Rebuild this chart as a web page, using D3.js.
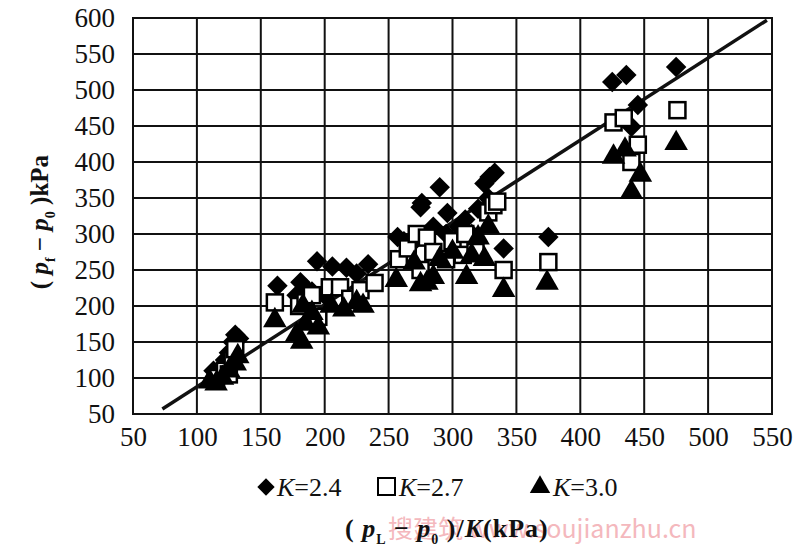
<!DOCTYPE html>
<html><head><meta charset="utf-8">
<script src="https://cdn.jsdelivr.net/npm/d3@7"></script>
<style>body{margin:0;background:#fff}svg{display:block}</style>
</head><body>
<svg id="c" width="800" height="558"></svg>
<script>
const xTicks = [50,100,150,200,250,300,350,400,450,500,550];
const yTicks = [50,100,150,200,250,300,350,400,450,500,550,600];
const seriesNames = ["K=2.4","K=2.7","K=3.0"];
// K=2.4 diamonds
const k24 = [[113,110],[120,115],[122,125],[125,135],[128,150],[130,160],[133,155],
 [163,228],[178,215],[181,233],[185,225],[190,220],[194,262],[200,215],[206,255],[217,253],[225,245],[234,258],
 [257,296],[262,290],[270,290],[276,343],[275,337],[285,310],[290,365],[295,300],[296,329],[305,310],[310,320],[315,300],[320,335],[325,370],[328,350],[329,379],[333,385],[340,280],
 [375,296],[425,511],[436,521],[440,449],[445,479],[475,532]];
// K=2.7 squares
const k27 = [[115,100],[122,110],[125,105],[128,125],[130,140],
 [161,205],[180,200],[185,205],[190,215],[195,185],[204,226],[212,226],[220,210],[228,222],[239,232],
 [258,265],[265,280],[272,300],[275,250],[280,295],[285,275],[295,265],[300,290],[308,271],[310,300],[318,275],[328,330],[332,340],[335,345],[340,250],
 [375,261],[426,455],[434,461],[440,400],[445,424],[476,472]];
// K=3.0 triangles
const k30 = [[110,95],[115,92],[120,100],[125,110],[130,120],[132,130],
 [161,180],[178,160],[182,150],[183,200],[185,175],[190,190],[195,170],[205,200],[215,195],[225,205],[230,200],
 [256,236],[270,260],[275,230],[280,232],[285,240],[290,265],[300,275],[311,240],[315,270],[320,295],[325,265],[328,310],[340,222],
 [374,232],[426,407],[435,417],[440,358],[447,382],[475,426]];
const fitLine = [[73,57],[546,597]];

const svg = d3.select("#c");
const L=133,R=772,T=18,B=414;
const x = d3.scaleLinear().domain([50,550]).range([L,R]);
const y = d3.scaleLinear().domain([50,600]).range([B,T]);
const serif = "'Liberation Serif','Times New Roman',serif";

// grid
svg.append("g").selectAll("line").data(xTicks).join("line")
 .attr("x1",d=>x(d)).attr("x2",d=>x(d)).attr("y1",T).attr("y2",B)
 .attr("stroke","#111").attr("stroke-width",2);
svg.append("g").selectAll("line").data(yTicks).join("line")
 .attr("x1",L).attr("x2",R).attr("y1",d=>y(d)).attr("y2",d=>y(d))
 .attr("stroke","#111").attr("stroke-width",2);
svg.append("rect").attr("x",L).attr("y",T).attr("width",R-L).attr("height",B-T)
 .attr("fill","none").attr("stroke","#111").attr("stroke-width",2);

// axes labels via d3 axes
const xa = svg.append("g").attr("transform",`translate(0,${B})`)
 .call(d3.axisBottom(x).tickValues(xTicks).tickSize(0).tickPadding(13).tickFormat(d3.format("d")));
const ya = svg.append("g").attr("transform",`translate(${L},0)`)
 .call(d3.axisLeft(y).tickValues(yTicks).tickSize(0).tickPadding(18).tickFormat(d3.format("d")));
[xa,ya].forEach(a=>{a.select(".domain").remove();
 a.selectAll("text").attr("font-family",serif).attr("font-size",27).attr("fill","#111");});

// fit line
svg.append("line").attr("x1",x(fitLine[0][0])).attr("y1",y(fitLine[0][1]))
 .attr("x2",x(fitLine[1][0])).attr("y2",y(fitLine[1][1]))
 .attr("stroke","#111").attr("stroke-width",3.5);

const diamond = d3.symbol().type(d3.symbolSquare).size(210)();
const g = svg.append("g");
g.selectAll(".d").data(k24).join("path").attr("d",diamond)
 .attr("transform",d=>`translate(${x(d[0])},${y(d[1])}) rotate(45)`).attr("fill","#000");
g.selectAll(".s").data(k27).join("rect")
 .attr("x",d=>x(d[0])-8).attr("y",d=>y(d[1])-8).attr("width",16).attr("height",16)
 .attr("fill","#fff").attr("stroke","#000").attr("stroke-width",2.5);
const tri = d3.symbol().type(d3.symbolTriangle).size(240)();
g.selectAll(".t").data(k30).join("path").attr("d",tri)
 .attr("transform",d=>`translate(${x(d[0])},${y(d[1])})`).attr("fill","#000");

// legend
const ly = 487;
const lg = svg.append("g");
lg.append("path").attr("d",d3.symbol().type(d3.symbolSquare).size(150)())
 .attr("transform",`translate(266,${ly}) rotate(45)`).attr("fill","#000");
lg.append("rect").attr("x",378).attr("y",ly-9).attr("width",17).attr("height",17)
 .attr("fill","#fff").attr("stroke","#000").attr("stroke-width",2);
lg.append("path").attr("d",d3.symbol().type(d3.symbolTriangle).size(180)())
 .attr("transform",`translate(540,${ly})`).attr("fill","#000");
const lx = [277,399,553];
seriesNames.forEach((n,i)=>{
 const t = lg.append("text").attr("x",lx[i]).attr("y",ly+9).attr("font-family",serif).attr("font-size",26).attr("fill","#111");
 t.append("tspan").attr("font-style","italic").text("K");
 t.append("tspan").text(n.slice(1));
});

// watermark
svg.append("text").attr("x",388).attr("y",538).attr("font-family","'Noto Sans CJK SC','DejaVu Sans Mono',monospace")
 .attr("font-size",25).attr("fill","#f4b8bd").text("搜建筑 www.soujianzhu.cn");

// x title
const xt = svg.append("text").attr("x",345).attr("y",537).attr("font-family",serif)
 .attr("font-size",26).attr("font-weight","bold").attr("fill","#111").attr("letter-spacing",1);
xt.append("tspan").text("( ");
xt.append("tspan").attr("font-style","italic").text("p");
xt.append("tspan").attr("font-size",14).attr("dy",7).text("L");
xt.append("tspan").attr("dy",-7).text(" − ");
xt.append("tspan").attr("font-style","italic").text("p");
xt.append("tspan").attr("font-size",14).attr("dy",7).text("0");
xt.append("tspan").attr("dy",-7).text(" )/");
xt.append("tspan").attr("font-style","italic").text("K");
xt.append("tspan").text("(kPa)");

// y title
const yt = svg.append("text").attr("transform","translate(48,222) rotate(-90)").attr("text-anchor","middle")
 .attr("font-family",serif).attr("font-size",25).attr("font-weight","bold").attr("fill","#111");
yt.append("tspan").text("(");
yt.append("tspan").attr("font-style","italic").text(" p");
yt.append("tspan").attr("font-size",14).attr("dy",7).text("f");
yt.append("tspan").attr("dy",-7).text(" − ");
yt.append("tspan").attr("font-style","italic").text("p");
yt.append("tspan").attr("font-size",14).attr("dy",7).text("0");
yt.append("tspan").attr("dy",-7).text(" )kPa");
</script>
</body></html>
